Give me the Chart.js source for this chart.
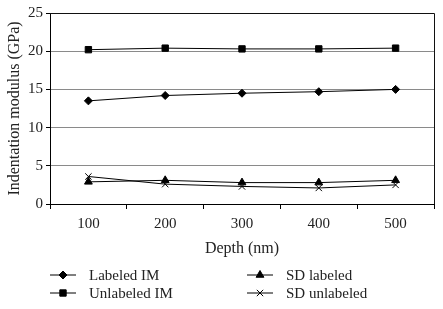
<!DOCTYPE html>
<html>
<head>
<meta charset="utf-8">
<script src="https://cdn.jsdelivr.net/npm/chart.js@4"></script>
<style>
  html, body { margin: 0; padding: 0; background: #fff; }
  #box { width: 443px; height: 309px; }
</style>
</head>
<body>
<div id="box"><canvas id="grafico" width="443" height="309"></canvas></div>
<script>
// Dados
var profundidades = ["100", "200", "300", "400", "500"];
var labeledIM = [13.5, 14.2, 14.5, 14.7, 15.0];
var unlabeledIM = [20.2, 20.4, 20.3, 20.3, 20.4];
var sdLabeled = [2.9, 3.1, 2.8, 2.8, 3.1];
var sdUnlabeled = [3.6, 2.6, 2.3, 2.1, 2.5];
var nomesSeries = ["Labeled IM", "Unlabeled IM", "SD labeled", "SD unlabeled"];

var fonte = "'Liberation Serif', 'DejaVu Serif', serif";

// Moldura do gráfico (borda direita e superior)
var moldura = {
  id: "moldura",
  afterDraw: function (chart) {
    var a = chart.chartArea;
    var ctx = chart.ctx;
    ctx.save();
    ctx.strokeStyle = "#111";
    ctx.lineWidth = 1;
    ctx.beginPath();
    ctx.moveTo(a.left, a.top + 0.5);
    ctx.lineTo(a.right + 0.5, a.top + 0.5);
    ctx.lineTo(a.right + 0.5, a.bottom);
    ctx.stroke();
    ctx.restore();
  }
};

// Legenda em duas colunas embaixo
var legenda = {
  id: "legenda",
  afterDraw: function (chart) {
    var ctx = chart.ctx;
    var posicoes = [
      { x: 50, y: 275 }, { x: 50, y: 293 },
      { x: 247, y: 275 }, { x: 247, y: 293 }
    ];
    ctx.save();
    ctx.font = "15px " + fonte;
    ctx.textBaseline = "middle";
    chart.data.datasets.forEach(function (ds, i) {
      var p = posicoes[i];
      ctx.strokeStyle = "#000";
      ctx.lineWidth = 1;
      ctx.beginPath();
      ctx.moveTo(p.x, p.y);
      ctx.lineTo(p.x + 26, p.y);
      ctx.stroke();
      ctx.fillStyle = "#000";
      Chart.helpers.drawPoint(ctx, {
        pointStyle: ds.pointStyle,
        radius: ds.pointRadius,
        borderWidth: 1
      }, p.x + 13, p.y);
      ctx.fillStyle = "#222";
      ctx.fillText(ds.label, p.x + 39, p.y + 1);
    });
    ctx.restore();
  }
};

var ctx = document.getElementById("grafico").getContext("2d");
var grafico = new Chart(ctx, {
  type: "line",
  data: {
    labels: profundidades,
    datasets: [
      {
        label: nomesSeries[0],
        data: labeledIM,
        borderColor: "#000",
        backgroundColor: "#000",
        borderWidth: 1,
        pointStyle: "rectRot",
        pointRadius: 4,
        pointBorderWidth: 1
      },
      {
        label: nomesSeries[1],
        data: unlabeledIM,
        borderColor: "#000",
        backgroundColor: "#000",
        borderWidth: 1,
        pointStyle: "rect",
        pointRadius: 4.5,
        pointBorderWidth: 1
      },
      {
        label: nomesSeries[2],
        data: sdLabeled,
        borderColor: "#000",
        backgroundColor: "#000",
        borderWidth: 1,
        pointStyle: "triangle",
        pointRadius: 4.5,
        pointBorderWidth: 1
      },
      {
        label: nomesSeries[3],
        data: sdUnlabeled,
        borderColor: "#000",
        backgroundColor: "#000",
        borderWidth: 1,
        pointStyle: "crossRot",
        pointRadius: 4.5,
        pointBorderWidth: 1
      }
    ]
  },
  options: {
    responsive: false,
    animation: false,
    devicePixelRatio: 1,
    layout: { padding: { top: 13, right: 9, bottom: 51, left: 0 } },
    plugins: {
      legend: { display: false },
      tooltip: { enabled: false }
    },
    scales: {
      x: {
        offset: true,
        grid: {
          offset: true,
          drawOnChartArea: false,
          tickLength: 5,
          tickColor: "#000"
        },
        border: { color: "#000", width: 1 },
        ticks: { color: "#222", font: { family: fonte, size: 15 }, padding: 6, maxRotation: 0 },
        title: {
          display: true,
          text: "Depth (nm)",
          color: "#222",
          font: { family: fonte, size: 16 },
          padding: { top: 2, bottom: 0 }
        },
        afterFit: function (scale) { scale.height = 54; }
      },
      y: {
        min: 0,
        max: 25,
        ticks: { stepSize: 5, color: "#222", font: { family: fonte, size: 15 }, padding: 3 },
        grid: { color: "#8a8a8a", tickColor: "#000", tickLength: 4 },
        border: { color: "#000", width: 1 },
        title: {
          display: true,
          text: "Indentation modulus (GPa)",
          color: "#222",
          font: { family: fonte, size: 16 },
          padding: { top: 5, bottom: 0 }
        },
        afterFit: function (scale) { scale.width = 50; }
      }
    }
  },
  plugins: [moldura, legenda]
});
</script>
</body>
</html>
